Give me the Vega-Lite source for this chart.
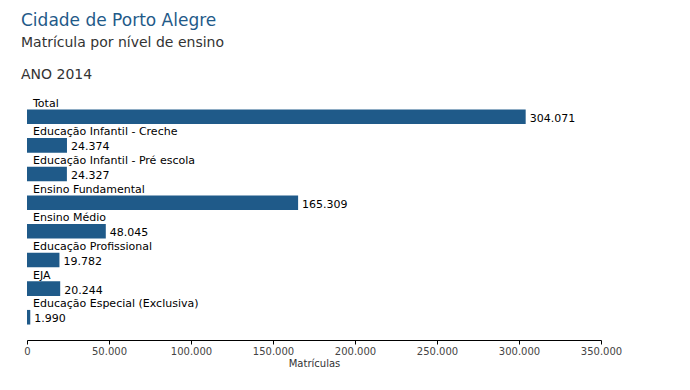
{
  "$schema": "https://vega.github.io/schema/vega-lite/v6.json",
  "autosize": {"type": "none"},
  "width": 574,
  "height": 246,
  "padding": {"left": 27, "top": 94, "right": 89, "bottom": 50},
  "background": "white",
  "config": {
    "locale": {"number": {"decimal": ",", "thousands": ".", "grouping": [3], "currency": ["R$", ""]}},
    "view": {"stroke": null},
    "font": "DejaVu Sans"
  },
  "title": {
    "text": "Cidade de Porto Alegre",
    "subtitle": ["Matrícula por nível de ensino", "ANO 2014"],
    "anchor": "start",
    "frame": "group",
    "dx": -6,
    "offset": 11,
    "font": "DejaVu Sans",
    "fontSize": 17,
    "fontWeight": "normal",
    "color": "#1f5a89",
    "subtitleFont": "DejaVu Sans",
    "subtitleFontSize": 14,
    "subtitleColor": "#333333",
    "subtitleLineHeight": 32,
    "subtitlePadding": 6
  },
  "data": {
    "values": [
      {"nivel": "Total", "matriculas": 304071},
      {"nivel": "Educação Infantil - Creche", "matriculas": 24374},
      {"nivel": "Educação Infantil - Pré escola", "matriculas": 24327},
      {"nivel": "Ensino Fundamental", "matriculas": 165309},
      {"nivel": "Ensino Médio", "matriculas": 48045},
      {"nivel": "Educação Profissional", "matriculas": 19782},
      {"nivel": "EJA", "matriculas": 20244},
      {"nivel": "Educação Especial (Exclusiva)", "matriculas": 1990}
    ]
  },
  "encoding": {
    "y": {
      "field": "nivel",
      "type": "nominal",
      "sort": null,
      "axis": null,
      "scale": {"paddingInner": 0.49, "paddingOuter": 0.54}
    }
  },
  "layer": [
    {
      "mark": {"type": "bar", "color": "#1f5a89"},
      "encoding": {
        "x": {
          "field": "matriculas",
          "type": "quantitative",
          "scale": {"domain": [0, 350000], "nice": false},
          "axis": {
            "title": "Matrículas",
            "values": [0, 50000, 100000, 150000, 200000, 250000, 300000, 350000],
            "format": ",d",
            "grid": false,
            "labelFlush": false,
            "labelOverlap": false,
            "domainColor": "#000000",
            "tickColor": "#000000",
            "tickSize": 4,
            "labelFontSize": 10,
            "labelColor": "#444444",
            "labelPadding": 2,
            "titleFontSize": 10,
            "titleFontWeight": "normal",
            "titleColor": "#333333",
            "titlePadding": 2
          }
        }
      }
    },
    {
      "mark": {"type": "text", "align": "left", "baseline": "middle", "dx": 6, "dy": -13, "fontSize": 11, "color": "#000000"},
      "encoding": {
        "x": {"datum": 0, "type": "quantitative"},
        "text": {"field": "nivel"}
      }
    },
    {
      "mark": {"type": "text", "align": "left", "baseline": "middle", "dx": 4, "dy": 2, "fontSize": 11, "color": "#000000"},
      "encoding": {
        "x": {"field": "matriculas", "type": "quantitative"},
        "text": {"field": "matriculas", "format": ",d"}
      }
    }
  ]
}
